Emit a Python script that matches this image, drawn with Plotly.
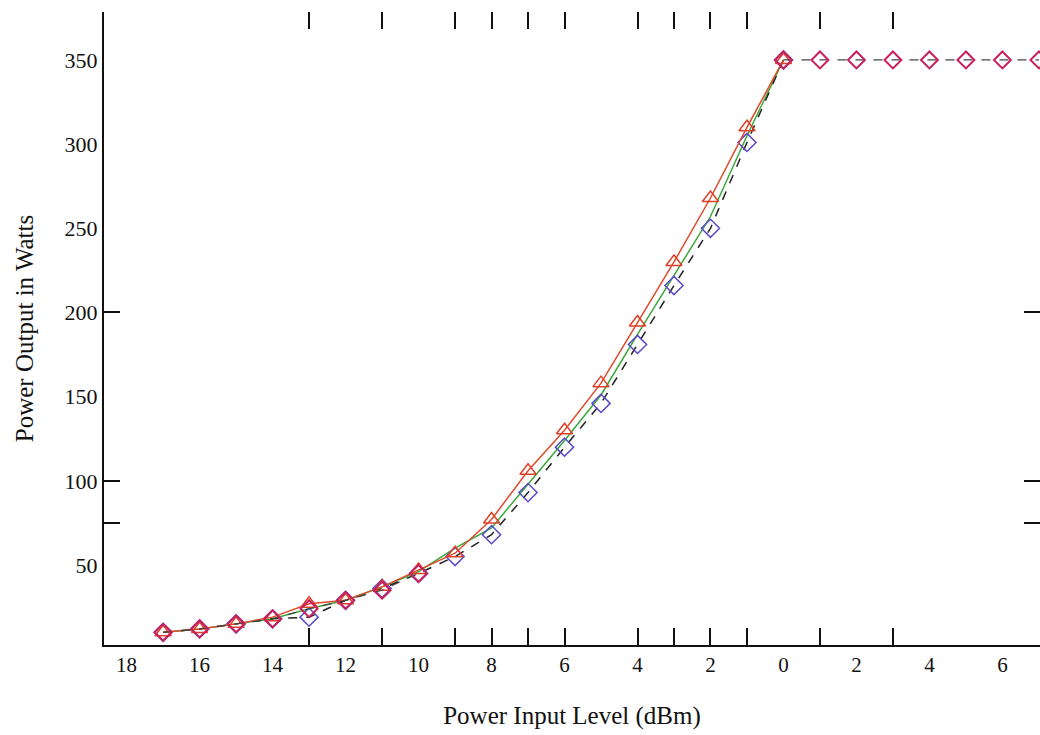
import plotly.graph_objects as go

# ---- data ----
x_main = [-17, -16, -15, -14, -13, -12, -11, -10, -9, -8, -7, -6, -5, -4, -3, -2, -1, 0]
red_tri = [10, 12, 15, 19, 27, 29, 37, 47, 57, 77, 106, 130, 158, 194, 230, 268, 310, 350]
blue_dia = [10, 12, 15, 18, 19, 29, 36, 45, 55, 68, 93, 120, 146, 181, 216, 250, 301, 350]
green = [10, 12, 15, 18, 24, 29, 37, 46, 60, 72, 98, 124, 151, 187, 222, 257, 305, 350]
x_mag_low = [-17, -16, -15, -14, -13, -12, -11, -10]
magenta_low = [10, 12, 15, 18, 24, 29, 35, 45]
x_mag_high = [0, 1, 2, 3, 4, 5, 6, 7]
magenta_high = [350, 350, 350, 350, 350, 350, 350, 350]

x_label_vals = [-18, -16, -14, -12, -10, -8, -6, -4, -2, 0, 2, 4, 6]
x_label_text = ["18", "16", "14", "12", "10", "8", "6", "4", "2", "0", "2", "4", "6"]
x_tick_marks = [-13, -11, -9, -8, -7, -6, -4, -3, -2, -1, 1, 3]
y_label_vals = [50, 100, 150, 200, 250, 300, 350]
y_tick_marks = [75, 100, 200]

X_RANGE = [-18.62, 7.03]
Y_RANGE = [2.45, 378.5]

FONT = "Liberation Serif, Times New Roman, serif"
INK = "#111111"

fig = go.Figure()
fig.add_trace(go.Scatter(
    x=x_main, y=green, mode="lines",
    line=dict(color="#3aa83a", width=1.5), name="green"))
fig.add_trace(go.Scatter(
    x=x_main, y=blue_dia, mode="lines+markers",
    line=dict(color="#222222", width=1.5, dash="dash"),
    marker=dict(symbol="diamond-open", size=14, color="#5a4ac8", line=dict(width=1.5)),
    name="blue"))
fig.add_trace(go.Scatter(
    x=x_main, y=red_tri, mode="lines+markers",
    line=dict(color="#e04a2a", width=1.5),
    marker=dict(symbol="triangle-up-open", size=14, color="#e0402a", line=dict(width=1.5)),
    name="red"))
for xs, ys in ((x_mag_low, magenta_low), (x_mag_high, magenta_high)):
    fig.add_trace(go.Scatter(
        x=xs, y=ys, mode="lines+markers",
        line=dict(color="#444444", width=1.2, dash="dash"),
        marker=dict(symbol="diamond-open", size=13, color="#c8205e", line=dict(width=2)),
        name="magenta"))

tick_axis = dict(tickmode="array", ticks="inside", tickwidth=2, tickcolor=INK,
                 showticklabels=False, showgrid=False, zeroline=False, showline=False,
                 automargin=False)

fig.update_layout(
    width=1040, height=735,
    margin=dict(l=104, r=0, t=12, b=90, autoexpand=False),
    paper_bgcolor="white", plot_bgcolor="white",
    showlegend=False,
    font=dict(family=FONT, size=16, color=INK),
    xaxis=dict(
        range=X_RANGE, tickmode="array", tickvals=x_label_vals, ticktext=x_label_text,
        ticks="", showgrid=False, zeroline=False, automargin=False,
        showline=True, linecolor=INK, linewidth=2,
        tickfont=dict(family=FONT, size=21),
        title=dict(text="Power Input Level (dBm)", font=dict(family=FONT, size=25), standoff=30),
    ),
    yaxis=dict(
        range=Y_RANGE, tickmode="array", tickvals=y_label_vals,
        ticks="", showgrid=False, zeroline=False, automargin=False,
        showline=True, linecolor=INK, linewidth=2,
        tickfont=dict(family=FONT, size=22), ticklabelstandoff=0,
        title=dict(text="Power Output in Watts", font=dict(family=FONT, size=25), standoff=24),
    ),
    xaxis2={**tick_axis, "overlaying": "x", "anchor": "y", "side": "bottom",
            "range": X_RANGE, "tickvals": x_tick_marks, "ticklen": 17},
    xaxis3={**tick_axis, "overlaying": "x", "anchor": "y", "side": "top",
            "range": X_RANGE, "tickvals": x_tick_marks, "ticklen": 17},
    yaxis2={**tick_axis, "overlaying": "y", "anchor": "x", "side": "left",
            "range": Y_RANGE, "tickvals": y_tick_marks, "ticklen": 16},
    yaxis3={**tick_axis, "overlaying": "y", "anchor": "x", "side": "right",
            "range": Y_RANGE, "tickvals": y_tick_marks, "ticklen": 16},
)
# invisible anchor traces so the overlay tick axes are drawn
fig.add_trace(go.Scatter(x=[x_main[0]], y=[red_tri[0]], xaxis="x2", yaxis="y2",
                         mode="markers", marker=dict(opacity=0), hoverinfo="skip"))
fig.add_trace(go.Scatter(x=[x_main[0]], y=[red_tri[0]], xaxis="x3", yaxis="y3",
                         mode="markers", marker=dict(opacity=0), hoverinfo="skip"))

# remove the default page margin so the figure fills the window exactly
fig.write_html("out.html",
               config={"displayModeBar": False},
               post_script="document.body.style.margin='0';document.body.style.overflow='hidden';")
